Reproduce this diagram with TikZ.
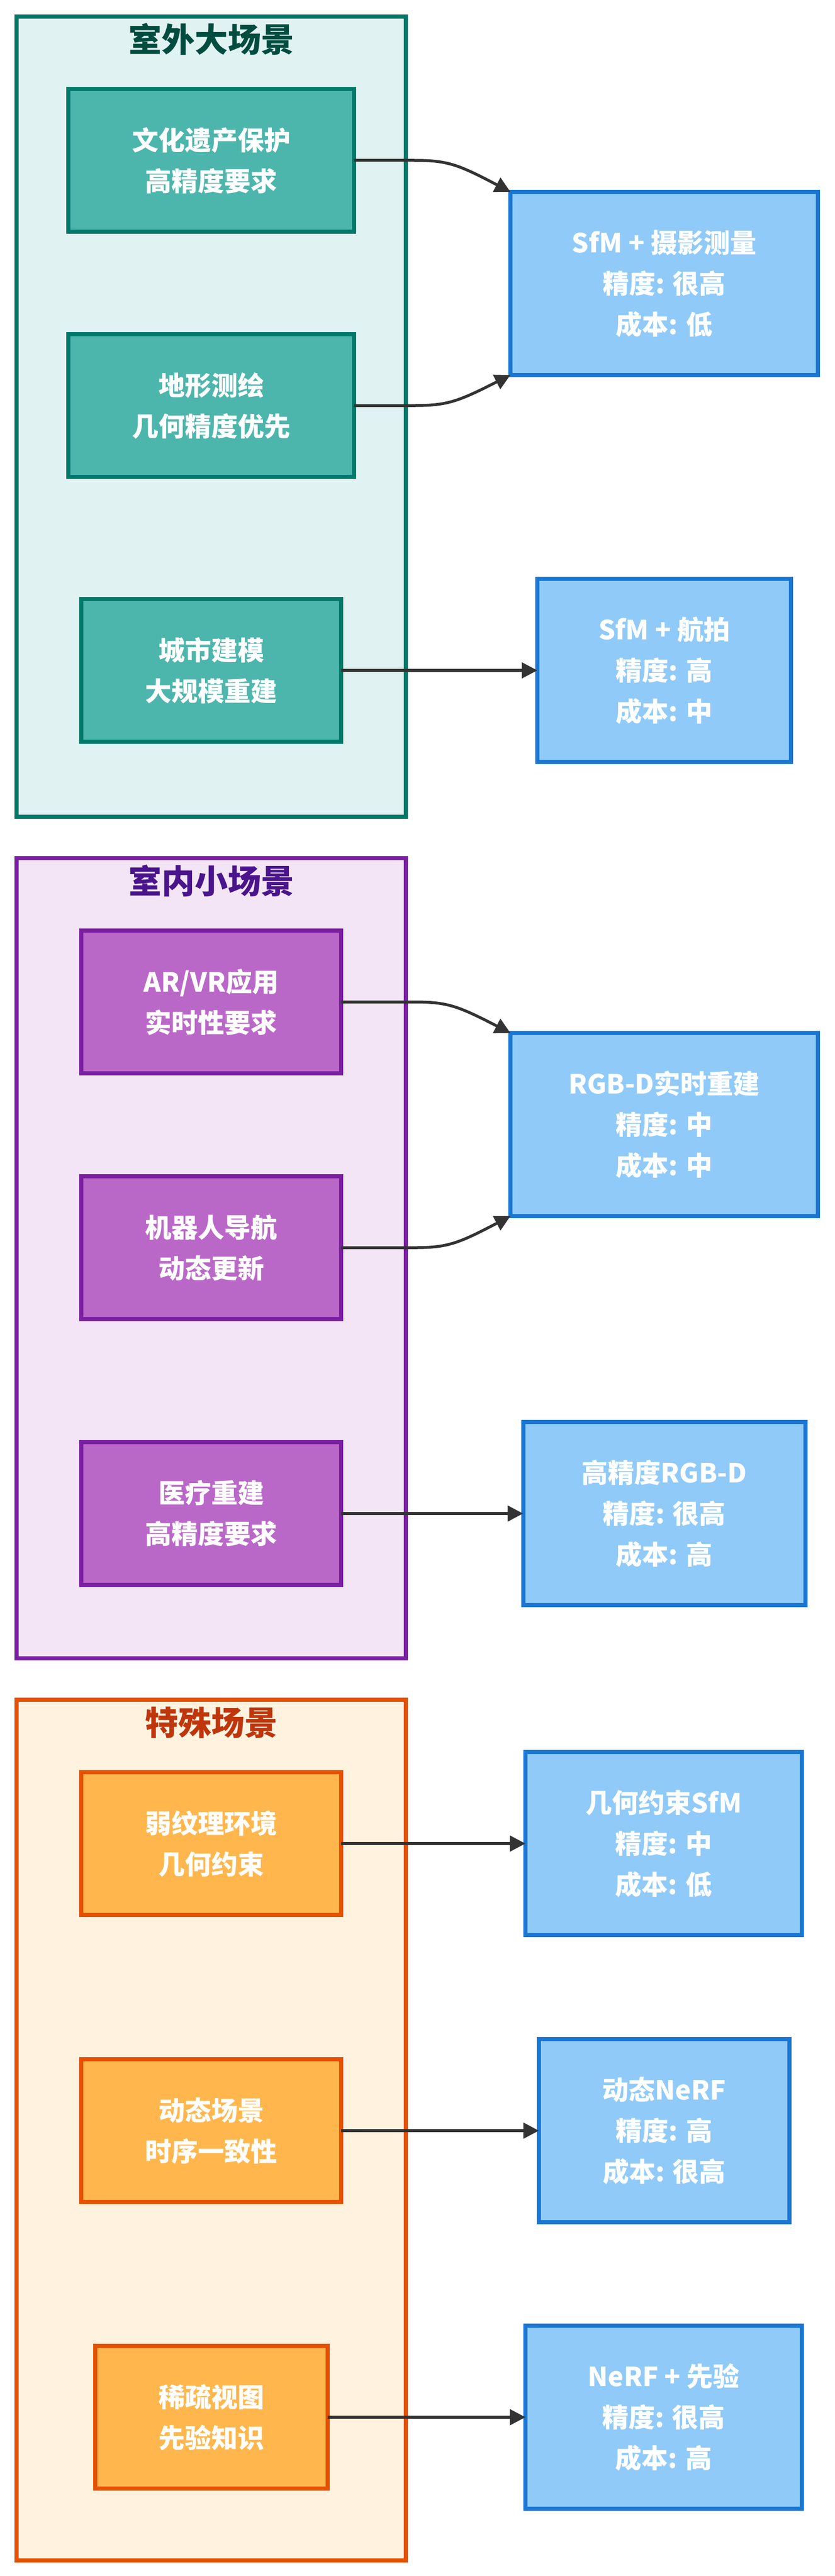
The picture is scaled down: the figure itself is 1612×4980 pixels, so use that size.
\documentclass[tikz,border=0pt]{standalone}
\usepackage{fontspec}
\setmainfont{Noto Sans CJK SC}
\usetikzlibrary{arrows.meta}
\definecolor{tealB}{HTML}{00796B}
\definecolor{tealC}{HTML}{E0F2F1}
\definecolor{tealN}{HTML}{4DB6AC}
\definecolor{tealT}{HTML}{004D40}
\definecolor{purB}{HTML}{7B1FA2}
\definecolor{purC}{HTML}{F3E5F5}
\definecolor{purN}{HTML}{BA68C8}
\definecolor{purT}{HTML}{4A148C}
\definecolor{oraB}{HTML}{E65100}
\definecolor{oraC}{HTML}{FFF3E0}
\definecolor{oraN}{HTML}{FFB74D}
\definecolor{oraT}{HTML}{BF360C}
\definecolor{bluB}{HTML}{1976D2}
\definecolor{bluN}{HTML}{90CAF9}
\definecolor{arrowc}{HTML}{333333}
\begin{document}
\begin{tikzpicture}[x=1pt,y=-1pt,
  cluster/.style={draw, rectangle, line width=8pt, outer sep=0pt, inner sep=0pt, minimum width=752pt},
  nodebox/.style={draw, rectangle, line width=8pt, outer sep=0pt, inner sep=0pt, minimum height=276pt, align=center, text=white, font=\bfseries\fontsize{51}{79}\selectfont},
  tealbox/.style={nodebox, fill=tealN, draw=tealB},
  purbox/.style={nodebox, fill=purN, draw=purB},
  orabox/.style={nodebox, fill=oraN, draw=oraB},
  bluebox/.style={nodebox, fill=bluN, draw=bluB, minimum height=354pt},
  titlelbl/.style={inner sep=0pt, font=\bfseries\fontsize{64}{70}\selectfont},
  conn/.style={draw=arrowc, line width=5.5pt, -{Triangle[length=30pt,width=30pt]}}
]
\useasboundingbox (0,0) rectangle (1612,4980);
\fill[white] (0,0) rectangle (1612,4980);

% clusters
\node[cluster, fill=tealC, draw=tealB, minimum height=1547pt] (C1) at (408,805.5) {};
\node[cluster, fill=purC, draw=purB, minimum height=1547pt] (C2) at (408,2432.5) {};
\node[cluster, fill=oraC, draw=oraB, minimum height=1664pt] (C3) at (408,4118) {};

\node[titlelbl, text=tealT] (T1) at (408,76) {室外大场景};
\node[titlelbl, text=purT] (T2) at (408,1703) {室内小场景};
\node[titlelbl, text=oraT] (T3) at (408,3330) {特殊场景};

% cluster 1
\node[tealbox, minimum width=552pt] (G1) at (408,310) {文化遗产保护\\高精度要求};
\node[tealbox, minimum width=552pt] (G2) at (408,784) {地形测绘\\几何精度优先};
\node[tealbox, minimum width=502pt] (G3) at (408,1296) {城市建模\\大规模重建};
\node[bluebox, minimum width=594pt] (B1) at (1283,548) {SfM + 摄影测量\\精度: 很高\\成本: 低};
\node[bluebox, minimum width=490pt] (B2) at (1283,1296) {SfM + 航拍\\精度: 高\\成本: 中};

% cluster 2
\node[purbox, minimum width=502pt] (P1) at (408,1937) {AR/VR应用\\实时性要求};
\node[purbox, minimum width=502pt] (P2) at (408,2412) {机器人导航\\动态更新};
\node[purbox, minimum width=502pt] (P3) at (408,2926) {医疗重建\\高精度要求};
\node[bluebox, minimum width=594pt] (R1) at (1283,2174) {RGB-D实时重建\\精度: 中\\成本: 中};
\node[bluebox, minimum width=545pt] (R2) at (1283,2926) {高精度RGB-D\\精度: 很高\\成本: 高};

% cluster 3
\node[orabox, minimum width=502pt] (O1) at (408,3564) {弱纹理环境\\几何约束};
\node[orabox, minimum width=502pt] (O2) at (408,4119) {动态场景\\时序一致性};
\node[orabox, minimum width=449pt] (O3) at (408,4673) {稀疏视图\\先验知识};
\node[bluebox, minimum width=534pt] (N1) at (1282,3564) {几何约束SfM\\精度: 中\\成本: 低};
\node[bluebox, minimum width=484pt] (N2) at (1283,4119) {动态NeRF\\精度: 高\\成本: 很高};
\node[bluebox, minimum width=534pt] (N3) at (1282,4673) {NeRF + 先验\\精度: 很高\\成本: 高};

% connectors
\draw[conn] (G1.east) -- (800,310) .. controls (865,310) and (885,318) .. (B1.north west);
\draw[conn] (G2.east) -- (800,784) .. controls (865,784) and (885,776) .. (B1.south west);
\draw[conn] (G3.east) -- (B2.west);
\draw[conn] (P1.east) -- (800,1937) .. controls (865,1937) and (885,1945) .. (R1.north west);
\draw[conn] (P2.east) -- (800,2412) .. controls (865,2412) and (885,2404) .. (R1.south west);
\draw[conn] (P3.east) -- (R2.west);
\draw[conn] (O1.east) -- (N1.west);
\draw[conn] (O2.east) -- (N2.west);
\draw[conn] (O3.east) -- (N3.west);
\end{tikzpicture}
\end{document}
